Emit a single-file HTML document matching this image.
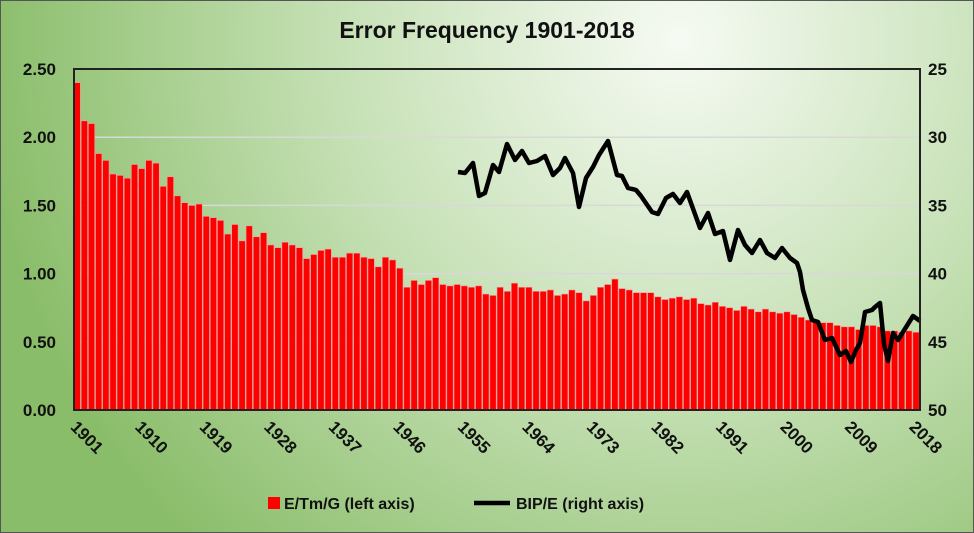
<!DOCTYPE html><html><head><style>body{margin:0}svg{display:block}text{font-family:"Liberation Sans",sans-serif;font-weight:bold}</style></head><body>
<svg id="s" width="974" height="533" xmlns="http://www.w3.org/2000/svg">
<defs><radialGradient id="g" cx="680" cy="40" r="700" gradientUnits="userSpaceOnUse"><stop offset="0" stop-color="#f6faf3"/><stop offset="0.5" stop-color="#c5e0b4"/><stop offset="1" stop-color="#8abd6a"/></radialGradient></defs>
<rect x="0.5" y="0.5" width="973" height="532" fill="url(#g)" stroke="#555"/>
<text x="487" y="38" font-size="23" text-anchor="middle" fill="#111">Error Frequency 1901-2018</text>
<g id="grid" stroke="#d8d8d8" stroke-width="1.5"></g>
<g id="bars" fill="#ff0000" stroke="#e8a0a0" stroke-width="0.6"></g>
<polyline fill="none" stroke="#000" stroke-width="4.5" stroke-linejoin="round" points="458,172 465,173 473,163 479,196 485,193 493,165 499,172 507,144 515,160 522,151 529,163 537,161 545,156 553,175 560,168 565,158 573,173 579,207 586,178 593,167 599,155 608,141 617,175 622,176 628,188 636,190 641,196 652,212 658,214 666,198 673,194 680,203 687,192 700,228 708,213 715,234 723,231 730,260 738,230 745,245 752,253 760,240 767,253 775,258 782,248 790,258 797,263 800,272 803,290 808,308 812,320 818,322 825,340 832,338 840,355 846,351 851,362 856,350 860,343 865,312 872,310 875,307 880,303 884,344 888,361 893,333 898,340 903,332 908,324 913,316 920,321"/>
<rect x="74" y="69" width="846" height="341" fill="none" stroke="#222" stroke-width="2"/>
<g id="lab" font-size="17" fill="#111"></g>
<rect x="268" y="497" width="12" height="12" fill="#ff0000"/>
<text x="284" y="509" font-size="16" fill="#111">E/Tm/G (left axis)</text>
<line x1="474" y1="503" x2="510" y2="503" stroke="#000" stroke-width="4.5"/>
<text x="516" y="509" font-size="16" fill="#111">BIP/E (right axis)</text>
</svg>
<script>
var v=[2.40,2.12,2.10,1.88,1.83,1.73,1.72,1.70,1.80,1.77,1.83,1.81,1.64,1.71,1.57,1.52,1.50,1.51,1.42,1.41,1.39,1.29,1.36,1.24,1.35,1.27,1.30,1.21,1.19,1.23,1.21,1.19,1.11,1.14,1.17,1.18,1.12,1.12,1.15,1.15,1.12,1.11,1.05,1.12,1.10,1.04,0.90,0.95,0.92,0.95,0.97,0.92,0.91,0.92,0.91,0.90,0.91,0.85,0.84,0.90,0.87,0.93,0.90,0.90,0.87,0.87,0.88,0.84,0.85,0.88,0.86,0.80,0.84,0.90,0.92,0.96,0.89,0.88,0.86,0.86,0.86,0.83,0.81,0.82,0.83,0.81,0.82,0.78,0.77,0.79,0.76,0.75,0.73,0.76,0.74,0.72,0.74,0.72,0.71,0.72,0.70,0.68,0.66,0.65,0.64,0.64,0.62,0.61,0.61,0.59,0.62,0.62,0.61,0.58,0.58,0.57,0.58,0.57];
while(v.length<118)v.push(0.57);
var N='http://www.w3.org/2000/svg',w=846/118,sc=136.4;
function el(p,t,a,tx){var e=document.createElementNS(N,t);for(var k in a)e.setAttribute(k,a[k]);if(tx)e.textContent=tx;document.getElementById(p).appendChild(e);}
for(var i=1;i<5;i++){var y=410-i*0.5*sc;el('grid','line',{x1:74,x2:920,y1:y,y2:y});}
for(var i=0;i<118;i++){el('bars','rect',{x:74+i*w,y:410-v[i]*sc,width:w-0.8,height:v[i]*sc});}
for(var i=0;i<=5;i++){var y=410-i*0.5*sc;el('lab','text',{x:56,y:y+6,'text-anchor':'end'},(i*0.5).toFixed(2));el('lab','text',{x:928,y:y+6},String(50-i*5));}
for(var yr=1901;yr<=2018;yr+=9){var x=74+(yr-1901+0.5)*w;el('lab','text',{x:0,y:0,transform:'translate('+(x-8)+',428) rotate(45)'},String(yr));}
</script></body></html>
